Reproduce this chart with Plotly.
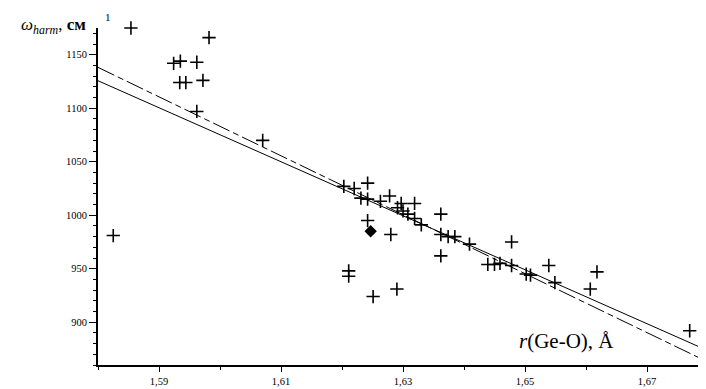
import plotly.graph_objects as go

# ---- data ----
r_ge_o = [1.5854, 1.5924, 1.5935, 1.5962, 1.5934, 1.5944, 1.5972, 1.5962, 1.5982,
          1.6070, 1.5825,
          1.6203, 1.6220, 1.6242, 1.6231, 1.6242, 1.6263, 1.6278, 1.6297, 1.6319,
          1.6291, 1.6300, 1.6308, 1.6319, 1.6362, 1.6242, 1.6280, 1.6330, 1.6362,
          1.6374, 1.6385, 1.6409, 1.6478, 1.6362, 1.6439, 1.6450, 1.6459, 1.6478,
          1.6502, 1.6509, 1.6539, 1.6549, 1.6211, 1.6211, 1.6251, 1.6290,
          1.6618, 1.6607, 1.6770]
omega_harm = [1175, 1142, 1144, 1143, 1124, 1124, 1126, 1097, 1166,
              1070, 981,
              1027, 1025, 1030, 1016, 1015, 1013, 1018, 1011, 1011,
              1007, 1004, 1001, 997, 1001, 995, 982, 991, 982,
              980, 980, 973, 975, 962, 954, 954, 955, 953,
              945, 944, 953, 937, 948, 943, 924, 931,
              947, 931, 892]

special_r = [1.6247]
special_omega = [985]

fit_all_r = [1.58, 1.6795]
fit_all_omega = [1125.7, 874.6]
fit_sub_r = [1.58, 1.679]
fit_sub_omega = [1138.2, 865.5]

x_tick_vals = [1.59, 1.61, 1.63, 1.65, 1.67]
x_tick_text = ["1,59", "1,61", "1,63", "1,65", "1,67"]
y_tick_vals = [900, 950, 1000, 1050, 1100, 1150]
y_tick_text = ["900", "950", "1000", "1050", "1100", "1150"]

fig = go.Figure()
fig.add_trace(go.Scatter(x=fit_all_r, y=fit_all_omega, mode="lines",
                         line=dict(color="black", width=1), showlegend=False))
fig.add_trace(go.Scatter(x=fit_sub_r, y=fit_sub_omega, mode="lines",
                         line=dict(color="black", width=1, dash="18px,4px,6px,4px"),
                         showlegend=False))
fig.add_trace(go.Scatter(x=r_ge_o, y=omega_harm, mode="markers", cliponaxis=False,
                         marker=dict(symbol="cross-thin", size=9.5,
                                     line=dict(color="black", width=1.6)),
                         showlegend=False))
fig.add_trace(go.Scatter(x=special_r, y=special_omega, mode="markers", cliponaxis=False,
                         marker=dict(symbol="diamond", size=9.5, color="black"),
                         showlegend=False))

tickfont = dict(family="Liberation Serif", size=10.5, color="black")
fig.update_xaxes(range=[1.58, 1.68], showline=True, linecolor="black", linewidth=2,
                 tickvals=x_tick_vals, ticktext=x_tick_text, ticks="outside",
                 ticklen=5, tickwidth=1, tickcolor="black", tickfont=tickfont,
                 showgrid=False, zeroline=False,
                 minor=dict(dtick=0.01, tick0=1.58, ticks="outside", ticklen=3,
                            tickcolor="black", showgrid=False))
fig.update_yaxes(range=[860, 1175], showline=True, linecolor="black", linewidth=2,
                 tickvals=y_tick_vals, ticktext=y_tick_text, ticks="outside",
                 ticklen=7, tickwidth=1, tickcolor="black", tickfont=tickfont,
                 showgrid=False, zeroline=False,
                 minor=dict(dtick=10, tick0=860, ticks="outside", ticklen=3,
                            tickcolor="black", showgrid=False))

fig.update_layout(
    width=706, height=389,
    margin=dict(l=90, r=6, t=20, b=32, autoexpand=False),
    plot_bgcolor="white", paper_bgcolor="white",
    annotations=[
        dict(text="<i>ω</i><sub><i>harm</i></sub>, <b>см</b>", xref="paper", yref="paper",
             x=-0.016, y=1.0, xanchor="right", yanchor="middle", yshift=2,
             showarrow=False, font=dict(family="Liberation Serif", size=17, color="black")),
        dict(text="1", xref="paper", yref="paper", x=0.017, y=1.0,
             xanchor="center", yanchor="bottom", yshift=3, showarrow=False,
             font=dict(family="Liberation Serif", size=11, color="black")),
        dict(text="<i>r</i>(Ge-O), Å", xref="paper", yref="paper",
             x=0.687, y=0.07, xanchor="left", yanchor="middle",
             showarrow=False, font=dict(family="Liberation Serif", size=21, color="black")),
    ],
)

fig.write_html("out.html")
